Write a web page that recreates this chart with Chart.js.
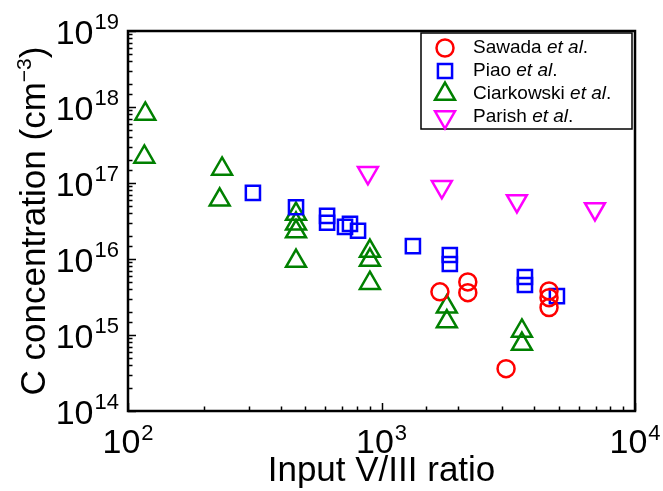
<!DOCTYPE html>
<html>
<head>
<title>C concentration vs input V/III ratio</title>
<script src="https://cdn.jsdelivr.net/npm/chart.js"></script>
<style>
  body { margin: 0; background: #fff; }
  #wrap { width: 663px; height: 491px; }
</style>
</head>
<body>
<div id="wrap"><canvas id="chart" width="663" height="491"></canvas></div>
<script>
// data (x = input V/III ratio, y = C concentration in cm^-3)
var sawadaX = [1700, 2190, 2190, 3100, 4580, 4580, 4580];
var sawadaY = [3.7e15, 5.0e15, 3.6e15, 3.6e14, 3.8e15, 3.1e15, 2.3e15];

var piaoX = [311, 460, 610, 610, 718, 751, 808, 1330, 1860, 1860, 3680, 3680, 4920];
var piaoY = [7.4e16, 4.8e16, 3.7e16, 3.0e16, 2.65e16, 2.9e16, 2.35e16, 1.48e16, 1.13e16, 8.6e15, 5.8e15, 4.55e15, 3.25e15];

var ciarkX = [117, 116, 235, 230, 460, 460, 460, 460, 900, 900, 900, 1810, 1810, 3580, 3580];
var ciarkY = [8.1e17, 2.2e17, 1.53e17, 6.0e16, 3.9e16, 2.9e16, 2.3e16, 9.4e15, 1.27e16, 9.7e15, 4.8e15, 2.35e15, 1.5e15, 1.13e15, 7.6e14];

var parishX = [884, 1730, 3420, 6950];
var parishY = [1.36e17, 8.9e16, 5.8e16, 4.55e16];

var seriesNames = ['Sawada', 'Piao', 'Ciarkowski', 'Parish'];
var xTickExp = [2, 3, 4];
var yTickExp = [14, 15, 16, 17, 18, 19];

var FONT = "'Liberation Sans', Arial, sans-serif";

function pts(xs, ys) {
    return xs.map(function (x, i) { return { x: x, y: ys[i] }; });
}

function series(label, xs, ys, color, style, radius, rotation) {
    return {
        label: label,
        data: pts(xs, ys),
        pointStyle: style,
        pointRadius: radius,
        pointHoverRadius: radius,
        pointRotation: rotation || 0,
        pointBorderWidth: 2.5,
        pointBorderColor: color,
        pointBackgroundColor: 'rgba(0,0,0,0)',
        borderColor: color,
        backgroundColor: 'rgba(0,0,0,0)',
        showLine: false
    };
}

var datasets = [
    series(seriesNames[0], sawadaX, sawadaY, '#ff0000', 'circle', 8.5),
    series(seriesNames[1], piaoX, piaoY, '#0000ff', 'rect', 10),
    series(seriesNames[2], ciarkX, ciarkY, '#008000', 'triangle', 11.5),
    series(seriesNames[3], parishX, parishY, '#ff00ff', 'triangle', 11.5, 180)
];

function isMajor(v) {
    var l = Math.log10(v);
    return Math.abs(l - Math.round(l)) < 1e-6;
}

// frame, inward ticks, power-of-ten labels, axis titles and legend
var decorations = {
    id: 'decorations',
    afterDraw: function (chart) {
        var ctx = chart.ctx, a = chart.chartArea;
        var xs = chart.scales.x, ys = chart.scales.y;
        ctx.save();
        ctx.strokeStyle = '#000';
        ctx.fillStyle = '#000';

        ctx.lineWidth = 1.5;
        ctx.beginPath();
        xs.ticks.forEach(function (t) {
            var px = Math.round(xs.getPixelForValue(t.value)) + 0.5;
            var len = isMajor(t.value) ? 8 : 4.5;
            ctx.moveTo(px, a.bottom);
            ctx.lineTo(px, a.bottom - len);
        });
        ys.ticks.forEach(function (t) {
            var py = Math.round(ys.getPixelForValue(t.value)) + 0.5;
            var len = isMajor(t.value) ? 8 : 4.5;
            ctx.moveTo(a.left, py);
            ctx.lineTo(a.left + len, py);
        });
        ctx.stroke();

        ctx.lineWidth = 2.5;
        ctx.strokeRect(a.left, a.top, a.right - a.left, a.bottom - a.top);

        // tick labels 10^n
        var big = '34px ' + FONT, sup = '22px ' + FONT;
        ctx.textBaseline = 'alphabetic';
        ctx.textAlign = 'left';
        xTickExp.forEach(function (e) {
            var px = xs.getPixelForValue(Math.pow(10, e));
            ctx.font = big;
            var w = ctx.measureText('10').width;
            ctx.font = sup;
            var sw = ctx.measureText(String(e)).width;
            var x0 = px - (w + 1 + sw) / 2;
            ctx.font = big;
            ctx.fillText('10', x0, 453);
            ctx.font = sup;
            ctx.fillText(String(e), x0 + w + 1, 440);
        });
        ctx.textAlign = 'right';
        yTickExp.forEach(function (e) {
            var py = ys.getPixelForValue(Math.pow(10, e));
            ctx.font = sup;
            var sw = ctx.measureText(String(e)).width;
            ctx.fillText(String(e), 119, py - 2);
            ctx.font = big;
            ctx.fillText('10', 119 - sw - 1, py + 13);
        });

        // x title
        ctx.font = '35px ' + FONT;
        ctx.textAlign = 'center';
        ctx.fillText('Input V/III ratio', (a.left + a.right) / 2, 481);

        // y title with superscript
        ctx.save();
        ctx.translate(45, (a.top + a.bottom) / 2);
        ctx.rotate(-Math.PI / 2);
        ctx.textAlign = 'left';
        var p1 = 'C concentration (cm', p2 = '\u22123', p3 = ')';
        ctx.font = '35px ' + FONT;
        var w1 = ctx.measureText(p1).width, w3 = ctx.measureText(p3).width;
        ctx.font = '21px ' + FONT;
        var w2 = ctx.measureText(p2).width;
        var x0 = -(w1 + w2 + w3) / 2;
        ctx.font = '35px ' + FONT;
        ctx.fillText(p1, x0, 0);
        ctx.font = '21px ' + FONT;
        ctx.fillText(p2, x0 + w1, -14);
        ctx.font = '35px ' + FONT;
        ctx.fillText(p3, x0 + w1 + w2, 0);
        ctx.restore();

        // legend
        var lx = 421, ly = 33, lw = 211, lh = 96;
        ctx.fillStyle = '#fff';
        ctx.fillRect(lx, ly, lw, lh);
        ctx.lineWidth = 1.5;
        ctx.strokeRect(lx, ly, lw, lh);
        chart.data.datasets.forEach(function (ds, i) {
            var cy = ly + 15 + i * 23;
            ctx.strokeStyle = ds.pointBorderColor;
            ctx.fillStyle = 'rgba(0,0,0,0)';
            ctx.lineWidth = ds.pointBorderWidth;
            Chart.helpers.drawPoint(ctx, {
                pointStyle: ds.pointStyle,
                radius: ds.pointRadius,
                rotation: ds.pointRotation,
                borderWidth: ds.pointBorderWidth
            }, 445, cy);
            ctx.fillStyle = '#000';
            ctx.textAlign = 'left';
            ctx.textBaseline = 'middle';
            ctx.font = '19px ' + FONT;
            var name = ds.label + ' ';
            ctx.fillText(name, 473, cy);
            var nw = ctx.measureText(name).width;
            ctx.font = 'italic 19px ' + FONT;
            ctx.fillText('et al', 473 + nw, cy);
            var ew = ctx.measureText('et al').width;
            ctx.font = '19px ' + FONT;
            ctx.fillText('.', 473 + nw + ew, cy);
        });
        ctx.restore();
    }
};

new Chart(document.getElementById('chart'), {
    type: 'scatter',
    data: { datasets: datasets },
    options: {
        responsive: false,
        animation: false,
        layout: { padding: { left: 128, top: 31, right: 28, bottom: 80 } },
        plugins: { legend: { display: false }, tooltip: { enabled: false } },
        scales: {
            x: {
                type: 'logarithmic',
                min: 100, max: 10000,
                ticks: { display: false, autoSkip: false },
                grid: { display: false, drawTicks: false },
                border: { display: false },
                title: { display: false }
            },
            y: {
                type: 'logarithmic',
                min: 1e14, max: 1e19,
                ticks: { display: false, autoSkip: false },
                grid: { display: false, drawTicks: false },
                border: { display: false },
                title: { display: false }
            }
        }
    },
    plugins: [decorations]
});
</script>
</body>
</html>
